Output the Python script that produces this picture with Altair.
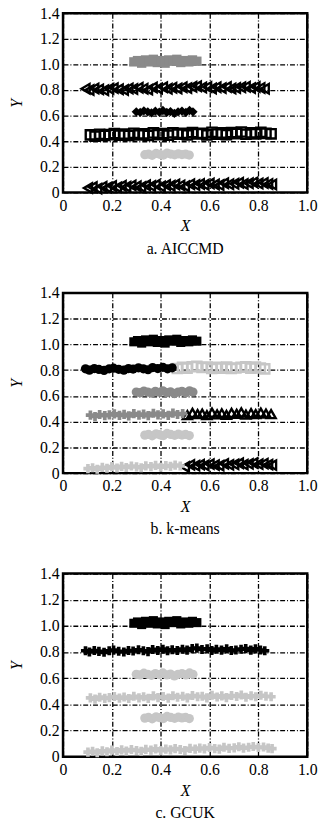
import altair as alt
import pandas as pd

FONT = "Liberation Serif"

# ---- point bands (x, y) ----
band_a_x = [0.290, 0.305, 0.322, 0.338, 0.352, 0.370, 0.386, 0.401, 0.418, 0.433, 0.450, 0.466, 0.482, 0.498, 0.515, 0.530, 0.548]
band_a_y = [1.020, 1.030, 1.010, 1.035, 1.020, 1.040, 1.015, 1.030, 1.010, 1.035, 1.025, 1.040, 1.015, 1.030, 1.020, 1.035, 1.025]

band_b_x = [0.092, 0.108, 0.128, 0.147, 0.168, 0.189, 0.207, 0.228, 0.249, 0.268, 0.287, 0.309, 0.329, 0.348, 0.367, 0.388, 0.409, 0.428,
            0.447, 0.468, 0.489, 0.508, 0.529, 0.548, 0.569, 0.590, 0.609, 0.628, 0.649, 0.670, 0.689, 0.708, 0.729, 0.748, 0.769, 0.788,
            0.808, 0.826]
band_b_y = [0.810, 0.800, 0.812, 0.805, 0.798, 0.810, 0.815, 0.806, 0.800, 0.812, 0.808, 0.818, 0.810, 0.803, 0.820, 0.812, 0.822, 0.810,
            0.818, 0.812, 0.822, 0.815, 0.826, 0.830, 0.820, 0.824, 0.812, 0.822, 0.815, 0.824, 0.812, 0.816, 0.822, 0.826, 0.815, 0.824,
            0.816, 0.810]

band_c_x = [0.300, 0.316, 0.331, 0.347, 0.362, 0.378, 0.394, 0.409, 0.425, 0.440, 0.456, 0.471, 0.487, 0.503, 0.518, 0.532]
band_c_y = [0.630, 0.625, 0.638, 0.630, 0.622, 0.635, 0.628, 0.640, 0.625, 0.632, 0.618, 0.630, 0.636, 0.625, 0.640, 0.630]

band_d_x = [0.112, 0.131, 0.150, 0.171, 0.190, 0.210, 0.231, 0.250, 0.269, 0.290, 0.311, 0.330, 0.349, 0.370, 0.389, 0.410, 0.431, 0.450,
            0.469, 0.490, 0.509, 0.530, 0.551, 0.570, 0.589, 0.610, 0.631, 0.650, 0.669, 0.690, 0.711, 0.730, 0.749, 0.770, 0.789, 0.810,
            0.831, 0.852]
band_d_y = [0.450, 0.440, 0.455, 0.446, 0.452, 0.460, 0.448, 0.456, 0.445, 0.462, 0.450, 0.458, 0.446, 0.465, 0.452, 0.460, 0.448, 0.466,
            0.455, 0.462, 0.450, 0.468, 0.458, 0.462, 0.450, 0.470, 0.456, 0.465, 0.452, 0.468, 0.460, 0.472, 0.455, 0.466, 0.458, 0.470,
            0.462, 0.458]

band_e_x = [0.335, 0.350, 0.365, 0.381, 0.396, 0.411, 0.426, 0.441, 0.457, 0.472, 0.487, 0.502, 0.517]
band_e_y = [0.295, 0.300, 0.290, 0.305, 0.298, 0.292, 0.308, 0.300, 0.294, 0.302, 0.296, 0.300, 0.292]

band_f_x = [0.102, 0.121, 0.140, 0.161, 0.180, 0.200, 0.221, 0.240, 0.259, 0.280, 0.301, 0.320, 0.339, 0.360, 0.379, 0.400, 0.421, 0.440,
            0.459, 0.480, 0.499, 0.520, 0.541, 0.560, 0.579, 0.600, 0.621, 0.640, 0.659, 0.680, 0.701, 0.720, 0.739, 0.760, 0.779, 0.800,
            0.821, 0.840, 0.856]
band_f_y = [0.035, 0.042, 0.030, 0.045, 0.038, 0.050, 0.040, 0.052, 0.044, 0.055, 0.048, 0.042, 0.056, 0.050, 0.060, 0.046, 0.058, 0.052,
            0.062, 0.055, 0.048, 0.064, 0.058, 0.066, 0.060, 0.070, 0.062, 0.058, 0.072, 0.064, 0.068, 0.076, 0.066, 0.072, 0.078, 0.070,
            0.074, 0.066, 0.062]

bands = {
    "A": (band_a_x, band_a_y),
    "B": (band_b_x, band_b_y),
    "C": (band_c_x, band_c_y),
    "D": (band_d_x, band_d_y),
    "E": (band_e_x, band_e_y),
    "F": (band_f_x, band_f_y),
}

captions = ["a. AICCMD", "b. k-means", "c. GCUK"]
panel_heights = [182, 183, 186]

# ---- marker styles: colour, shape, filled, size ----
styles = {
    "gray_sq":    ("#8a8a8a", "square", True, 90),
    "blk_tril":   ("#000000", "triangle-left", False, 85),
    "blk_dia":    ("#000000", "diamond", True, 65),
    "blk_sq_o":   ("#000000", "square", False, 60),
    "lg_circ":    ("#c6c6c6", "circle", True, 65),
    "blk_circ":   ("#000000", "circle", True, 45),
    "lg_sq_o":    ("#c6c6c6", "square", False, 60),
    "gray_circ":  ("#8a8a8a", "circle", True, 55),
    "gray_cross": ("#8a8a8a", "cross", True, 24),
    "blk_triu":   ("#000000", "triangle-up", False, 75),
    "lg_cross":   ("#c6c6c6", "cross", True, 34),
    "blk_sq":     ("#000000", "square", True, 55),
    "blk_small":  ("#000000", "cross", True, 30),
}

# cluster assignment per method: band -> list of (x from, style)
assign = [
    {"A": [(0, "gray_sq")], "B": [(0, "blk_tril")], "C": [(0, "blk_dia")],
     "D": [(0, "blk_sq_o")], "E": [(0, "lg_circ")], "F": [(0, "blk_tril")]},
    {"A": [(0, "blk_sq")], "B": [(0, "blk_circ"), (0.46, "lg_sq_o")], "C": [(0, "gray_circ")],
     "D": [(0, "gray_cross"), (0.50, "blk_triu")], "E": [(0, "lg_circ")],
     "F": [(0, "lg_cross"), (0.49, "blk_tril")]},
    {"A": [(0, "blk_sq")], "B": [(0, "blk_small")], "C": [(0, "lg_circ")],
     "D": [(0, "lg_cross")], "E": [(0, "lg_circ")], "F": [(0, "lg_cross")]},
]

rows = []
for pi, amap in enumerate(assign):
    for b, (xs, ys) in bands.items():
        for x, y in zip(xs, ys):
            st = None
            for x0, s in amap[b]:
                if x >= x0:
                    st = s
            rows.append({"panel": pi, "x": x, "y": y, "style": st})
df = pd.DataFrame(rows)

sdom = list(styles.keys())
color_sc = alt.Scale(domain=sdom, range=[styles[k][0] for k in sdom])
shape_sc = alt.Scale(domain=sdom, range=[styles[k][1] for k in sdom])
size_sc = alt.Scale(domain=sdom, range=[styles[k][3] for k in sdom])
filled_styles = [k for k in sdom if styles[k][2]]
open_styles = [k for k in sdom if not styles[k][2]]

xticks = [0, 0.2, 0.4, 0.6, 0.8, 1.0]
yticks = [0, 0.2, 0.4, 0.6, 0.8, 1.0, 1.2, 1.4]
lab = "datum.value == 0 ? '0' : format(datum.value, '.1f')"

def panel(pi):
    base = alt.Chart(df[df.panel == pi]).encode(
        x=alt.X("x:Q", scale=alt.Scale(domain=[0, 1], nice=False),
                axis=alt.Axis(values=xticks, labelExpr=lab, title="X", titlePadding=5, labelPadding=5)),
        y=alt.Y("y:Q", scale=alt.Scale(domain=[0, 1.4], nice=False),
                axis=alt.Axis(values=yticks, labelExpr=lab, title="Y", titlePadding=15, labelPadding=4)),
        color=alt.Color("style:N", scale=color_sc, legend=None),
        shape=alt.Shape("style:N", scale=shape_sc, legend=None),
        size=alt.Size("style:N", scale=size_sc, legend=None),
    )
    opn = base.transform_filter(
        alt.FieldOneOfPredicate(field="style", oneOf=open_styles)
    ).mark_point(filled=False, strokeWidth=2.4, opacity=1)
    fil = base.transform_filter(
        alt.FieldOneOfPredicate(field="style", oneOf=filled_styles)
    ).mark_point(filled=True, opacity=1)
    return alt.layer(opn, fil).properties(
        width=248, height=panel_heights[pi],
        title=alt.TitleParams(captions[pi], orient="bottom", font=FONT, fontSize=16,
                              fontWeight="normal", color="black", offset=7),
    )

chart = alt.vconcat(panel(0), panel(1), panel(2), spacing=25).properties(
    padding={"left": 7, "top": -3, "right": 4, "bottom": 2}
).configure_view(
    stroke="black", strokeWidth=2.5
).configure_axis(
    labelFont=FONT, labelFontSize=16, labelColor="black",
    titleFont=FONT, titleFontSize=16, titleFontStyle="italic", titleFontWeight="normal",
    titleColor="black",
    domain=False, ticks=False,
    grid=True, gridColor="black", gridDash=[5, 2, 1, 2], gridWidth=1.3, gridOpacity=1,
).configure_axisX(labelFlush=False)

chart.save("out.html", embed_options={"renderer": "svg", "actions": False})
